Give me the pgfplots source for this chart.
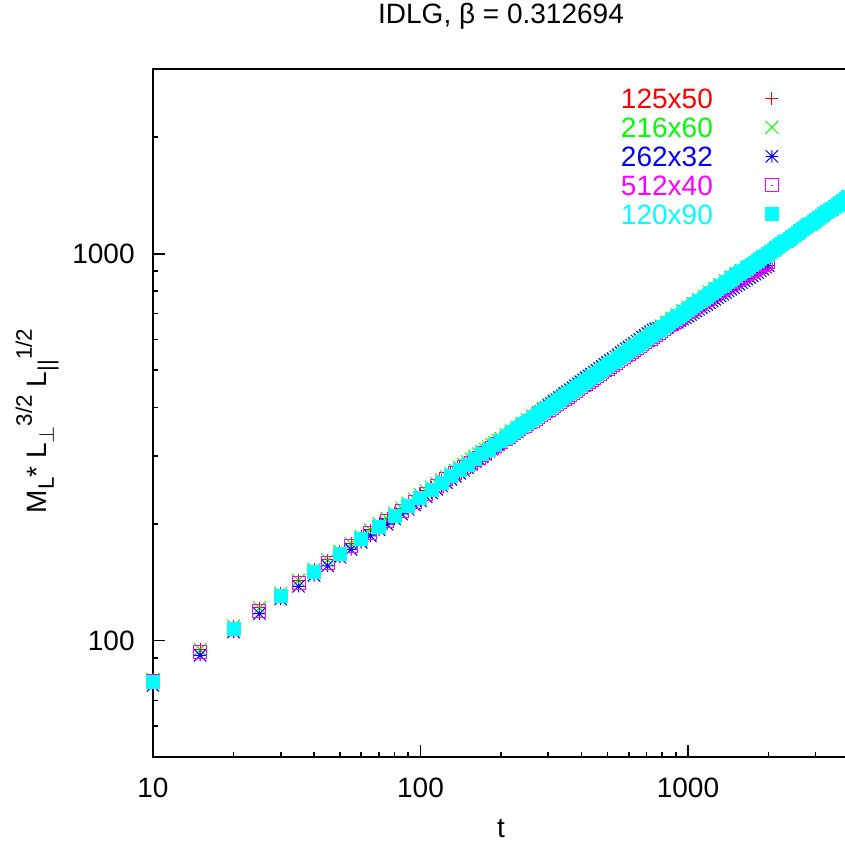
\documentclass[border=0pt]{standalone}
\usepackage{pgfplots}
\pgfplotsset{compat=1.18}
\usepackage{pgfplotstable}
\usepackage{fontspec}
\setmainfont{Liberation Sans}

\definecolor{gpred}{RGB}{255,0,0}
\definecolor{gpgreen}{RGB}{0,255,0}
\definecolor{gpblue}{RGB}{0,0,255}
\definecolor{gpmagenta}{RGB}{255,0,255}
\definecolor{gpcyan}{RGB}{0,255,255}

\pgfdeclareplotmark{gpstar}{%
  \pgfpathmoveto{\pgfqpoint{-\pgfplotmarksize}{0pt}}\pgfpathlineto{\pgfqpoint{\pgfplotmarksize}{0pt}}%
  \pgfpathmoveto{\pgfqpoint{0pt}{-\pgfplotmarksize}}\pgfpathlineto{\pgfqpoint{0pt}{\pgfplotmarksize}}%
  \pgfpathmoveto{\pgfqpoint{-\pgfplotmarksize}{-\pgfplotmarksize}}\pgfpathlineto{\pgfqpoint{\pgfplotmarksize}{\pgfplotmarksize}}%
  \pgfpathmoveto{\pgfqpoint{-\pgfplotmarksize}{\pgfplotmarksize}}\pgfpathlineto{\pgfqpoint{\pgfplotmarksize}{-\pgfplotmarksize}}%
  \pgfusepathqstroke}
\pgfdeclareplotmark{gpbox}{%
  \pgfpathrectangle{\pgfqpoint{-\pgfplotmarksize}{-\pgfplotmarksize}}{\pgfqpoint{2\pgfplotmarksize}{2\pgfplotmarksize}}%
  \pgfusepathqstroke
  \pgfpathrectangle{\pgfqpoint{-0.35pt}{-0.35pt}}{\pgfqpoint{0.7pt}{0.7pt}}%
  \pgfusepathqfill}

\newcommand{\lsub}[1]{\raisebox{-3.5pt}{\fontsize{11.2}{13}\selectfont #1}}
\newcommand{\lsup}[1]{\raisebox{7.5pt}{\fontsize{11.2}{13}\selectfont #1}}

\pgfplotstableread{
t y
10 79.3
15 94.8
20 109.0
25 121.4
30 132.6
35 143.0
40 152.5
45 161.5
50 170.0
55 178.0
60 185.7
65 193.1
70 200.2
75 206.9
80 213.5
85 219.9
90 226.1
95 232.1
100 237.9
105 243.6
110 249.2
115 254.6
120 259.9
125 265.1
130 270.2
135 275.2
140 280.1
145 284.9
150 289.6
155 294.2
160 298.8
165 303.4
170 307.7
175 312.1
180 316.4
185 320.6
190 324.8
195 329.0
200 333.0
208.9 340.1
218.8 347.8
229.1 355.7
239.9 363.7
251.2 371.8
263.0 380.3
275.4 388.9
288.4 397.7
302.0 406.6
316.2 415.9
331.1 425.2
346.7 434.9
363.1 444.6
380.2 454.7
398.1 464.9
416.9 475.5
436.5 486.2
457.1 497.2
478.6 508.4
501.2 519.9
524.8 531.6
549.5 543.7
575.4 555.9
602.6 568.5
631.0 581.3
660.7 594.4
691.8 607.9
724.4 621.6
758.6 635.7
794.3 650.0
831.8 664.6
871.0 679.7
912.0 695.0
955.0 710.8
1000 726.8
1047.1 743.2
1096.5 760.0
1148.2 777.1
1202.3 794.7
1258.9 812.7
1318.3 831.0
1380.4 849.8
1445.4 869.0
1513.6 888.6
1584.9 908.7
1659.6 929.2
1737.8 950.2
1819.7 971.6
1905.5 993.6
1995.3 1016.1
}\tabred

\pgfplotstableread{
t y
10 79.3
15 94.8
20 109.0
25 121.4
30 132.6
35 143.0
40 152.5
45 161.5
50 170.0
55 178.0
60 185.7
65 193.1
70 200.2
75 206.9
80 213.5
85 219.9
90 226.1
95 232.1
100 237.9
105 243.6
110 249.2
115 254.6
120 259.9
125 265.1
130 270.2
135 275.2
140 280.1
145 284.9
150 289.6
155 294.2
160 298.8
165 303.4
170 307.7
175 312.1
180 316.4
185 320.6
190 324.8
195 329.0
200 333.0
208.9 340.1
218.8 347.8
229.1 355.7
239.9 363.7
251.2 371.8
263.0 380.3
275.4 388.9
288.4 397.7
302.0 406.6
316.2 415.9
331.1 425.2
346.7 434.9
363.1 444.6
380.2 454.7
398.1 464.9
416.9 475.5
436.5 486.2
457.1 497.2
478.6 508.4
501.2 519.9
524.8 531.6
549.5 543.7
575.4 555.9
602.6 568.5
631.0 581.3
660.7 594.4
691.8 607.9
724.4 621.6
758.6 635.7
794.3 650.0
831.8 664.6
871.0 679.7
912.0 695.0
955.0 710.8
1000 726.8
1047.1 743.2
1096.5 760.0
1148.2 777.1
1202.3 794.7
1258.9 812.7
1318.3 831.0
1380.4 849.8
1445.4 869.0
1513.6 888.6
1584.9 904.6
1659.6 920.6
1737.8 935.0
1819.7 956.1
1905.5 977.7
1995.3 999.8
}\tabgreen

\pgfplotstableread{
t y
10 76.6
15 91.6
20 105.3
25 117.3
30 128.1
35 138.1
40 147.4
45 156.0
50 164.2
55 172.0
60 179.4
65 186.5
70 193.4
75 199.9
80 206.3
85 212.4
90 218.4
95 224.2
100 229.8
105 235.3
110 240.7
115 245.9
120 251.0
125 256.1
130 261.0
135 265.9
140 270.6
145 275.2
150 279.8
155 285.5
160 290.0
165 294.4
170 298.6
175 302.9
180 308.4
185 312.6
190 316.7
195 320.7
200 324.7
208.9 332.4
218.8 340.6
229.1 349.2
239.9 357.9
251.2 366.7
263.0 375.9
275.4 385.4
288.4 394.9
302.0 404.7
316.2 414.4
331.1 424.2
346.7 434.4
363.1 444.6
380.2 455.2
398.1 466.0
416.9 477.7
436.5 488.4
457.1 499.4
478.6 510.8
501.2 523.5
524.8 535.3
549.5 547.5
575.4 561.0
602.6 573.7
631.0 586.7
660.7 601.3
691.8 615.0
724.4 628.8
758.6 640.1
794.3 642.6
831.8 648.0
871.0 656.6
912.0 665.3
955.0 677.2
1000 689.3
1047.1 703.2
1096.5 717.4
1148.2 732.0
1202.3 746.8
1258.9 761.9
1318.3 777.3
1380.4 793.1
1445.4 809.1
1513.6 825.5
1584.9 842.2
1659.6 859.2
1737.8 876.6
1819.7 894.3
1905.5 912.4
1995.3 930.9
213.8 336.5
223.9 344.9
234.4 353.6
245.5 362.3
257.0 371.3
269.2 380.7
281.8 390.2
295.1 399.8
309.0 409.6
323.6 419.3
338.8 429.3
354.8 439.5
371.5 449.9
389.0 460.6
407.4 471.9
426.6 483.1
446.7 493.9
467.7 505.1
489.8 517.2
512.9 529.4
537.0 541.4
562.3 554.3
588.8 567.4
616.6 580.2
645.7 594.0
676.1 608.2
707.9 621.9
741.3 634.5
776.2 641.4
812.8 645.3
851.1 652.3
891.3 661.0
933.3 671.3
977.2 683.3
1023.3 696.3
1071.5 710.3
1122.0 724.7
1174.9 739.4
1230.3 754.4
1288.2 769.6
1349.0 785.2
1412.5 801.1
1479.1 817.3
1548.8 833.9
1621.8 850.7
1698.2 867.9
1778.3 885.5
1862.1 903.4
1949.8 921.7
}\tabblue

\pgfplotstableread{
t y
10 78.7
15 93.3
20 107.3
25 119.5
30 130.5
35 140.7
40 150.1
45 158.9
50 167.3
55 175.2
60 182.7
65 190.0
70 197.0
75 203.6
80 210.1
85 216.4
90 222.5
95 228.4
100 234.1
105 239.7
110 245.2
115 250.5
120 255.7
125 260.9
130 265.9
135 270.8
140 275.6
145 280.3
150 285.0
155 288.2
160 292.6
165 297.1
170 301.4
175 305.7
180 309.9
185 314.0
190 318.1
195 322.2
200 326.2
208.9 332.4
218.8 339.8
229.1 347.6
239.9 355.4
251.2 363.4
263.0 369.9
275.4 378.3
288.4 386.8
302.0 395.5
316.2 404.5
331.1 412.7
346.7 422.0
363.1 431.5
380.2 441.3
398.1 451.2
416.9 461.5
436.5 471.8
457.1 482.5
478.6 493.4
501.2 504.6
524.8 515.9
549.5 527.7
575.4 539.5
602.6 551.7
631.0 564.2
660.7 576.9
691.8 590.0
724.4 603.3
758.6 616.9
794.3 630.8
831.8 645.0
871.0 659.6
912.0 674.5
955.0 689.8
1000 705.4
1047.1 719.6
1096.5 735.8
1148.2 752.5
1202.3 767.7
1258.9 785.1
1318.3 802.8
1380.4 817.2
1445.4 835.6
1513.6 850.6
1584.9 869.8
1659.6 885.3
1737.8 901.2
1819.7 917.3
1905.5 933.7
1995.3 950.4
213.8 336.1
223.9 343.7
234.4 351.5
245.5 359.4
257.0 366.7
269.2 374.1
281.8 382.6
295.1 391.2
309.0 400.0
323.6 408.6
338.8 417.4
354.8 426.8
371.5 436.4
389.0 446.3
407.4 456.4
426.6 466.7
446.7 477.2
467.7 488.0
489.8 499.0
512.9 510.3
537.0 521.8
562.3 533.6
588.8 545.6
616.6 558.0
645.7 570.6
676.1 583.5
707.9 596.7
741.3 610.1
776.2 623.9
812.8 637.9
851.1 652.3
891.3 667.1
933.3 682.2
977.2 697.6
1023.3 712.5
1071.5 727.7
1122.0 744.2
1174.9 760.1
1230.3 776.4
1288.2 794.0
1349.0 810.0
1412.5 826.4
1479.1 843.1
1548.8 860.2
1621.8 877.6
1698.2 893.3
1778.3 909.3
1862.1 925.5
1949.8 942.1
}\tabmagenta

\pgfplotstableread{
t y
10 78.0
20 107.3
30 130.5
40 150.1
50 167.3
60 182.7
70 197.0
80 210.1
90 222.5
100 234.1
110 245.2
120 255.7
130 265.9
140 275.6
150 285.0
160 294.0
170 302.8
180 311.3
190 319.6
200 327.7
208.9 334.7
218.8 342.2
229.1 350.0
239.9 357.9
251.2 365.9
263.0 374.2
275.4 382.7
288.4 391.3
302.0 400.1
316.2 409.2
331.1 418.4
346.7 427.9
363.1 437.5
380.2 447.4
398.1 457.5
416.9 467.9
436.5 478.4
457.1 489.2
478.6 500.3
501.2 511.6
524.8 523.1
549.5 535.0
575.4 547.0
602.6 559.4
631.0 572.0
660.7 584.9
691.8 598.2
724.4 611.7
758.6 625.5
794.3 639.6
831.8 654.0
871.0 668.8
912.0 683.9
955.0 699.4
1000 715.2
1047.1 731.3
1096.5 747.8
1148.2 764.7
1202.3 782.0
1258.9 799.7
1318.3 817.7
1380.4 836.2
1445.4 855.1
1513.6 874.4
1584.9 894.2
1659.6 914.3
1737.8 935.0
1819.7 956.1
1905.5 977.7
1995.3 999.8
2089.3 1022.4
2187.8 1045.4
2290.9 1069.1
2398.8 1093.3
2511.9 1117.9
2630.3 1143.2
2754.2 1169.0
2884.0 1195.4
3020.0 1222.4
3162.3 1250.0
3311.3 1278.2
3467.4 1307.2
3630.8 1336.7
3801.9 1366.8
3981.1 1397.7
213.8 338.5
223.9 346.0
234.4 353.9
245.5 361.9
257.0 370.0
269.2 378.4
281.8 387.0
295.1 395.7
309.0 404.6
323.6 413.8
338.8 423.1
354.8 432.7
371.5 442.4
389.0 452.4
407.4 462.6
426.6 473.2
446.7 483.8
467.7 494.7
489.8 505.9
512.9 517.4
537.0 529.0
562.3 541.0
588.8 553.1
616.6 565.7
645.7 578.4
676.1 591.5
707.9 604.9
741.3 618.6
776.2 632.5
812.8 646.8
851.1 661.4
891.3 676.3
933.3 691.6
977.2 707.3
1023.3 723.2
1071.5 739.5
1122.0 756.2
1174.9 773.3
1230.3 790.8
1288.2 808.7
1349.0 826.9
1412.5 845.6
1479.1 864.7
1548.8 884.2
1621.8 904.2
1698.2 924.6
1778.3 945.5
1862.1 966.8
1949.8 988.7
2041.7 1011.0
2138.0 1033.9
2238.7 1057.1
2344.2 1081.1
2454.7 1105.6
2570.4 1130.5
2691.5 1156.0
2818.4 1182.1
2951.2 1208.8
3090.3 1236.1
3235.9 1264.0
3388.4 1292.6
3548.1 1321.9
3715.4 1351.7
3890.5 1382.2
}\tabcyan

\begin{document}
\fontsize{14}{17}\selectfont
\begin{tikzpicture}[font=\fontsize{14}{17}\selectfont]
\begin{axis}[
  at={(0,0)}, anchor=south west,
  scale only axis, width=348pt, height=344pt,
  xmode=log, ymode=log,
  xmin=10, xmax=4000, ymin=50, ymax=3000,
  font=\fontsize{14}{17}\selectfont,
  /pgf/number format/assume math mode=true,
  xtick={10,100,1000}, xticklabels={10,100,1000},
  minor xtick={20,30,40,50,60,70,80,90,200,300,400,500,600,700,800,900,2000,3000},
  ytick={100,1000}, yticklabels={100,1000},
  minor ytick={60,70,80,90,200,300,400,500,600,700,800,900,2000},
  tick pos=left, tick align=inside,
  major tick length=6pt, minor tick length=2.75pt,
  every tick/.style={black, line width=0.9pt},
  axis line style={black, line width=1pt},
  xticklabel style={inner sep=0pt, anchor=base, yshift=-20pt},
  yticklabel style={inner sep=0pt, anchor=east, xshift=-9pt},
  title={IDLG, β = 0.312694},
  title style={at={(axis description cs:0.5,1.0494)}, anchor=base, inner sep=0pt},
  xlabel={t},
  xlabel style={at={(axis description cs:0.5,-0.1163)}, anchor=base, inner sep=0pt},
  ylabel={M\lsub{L}* L\lsub{$\perp$}\lsup{3/2} L\lsub{||}\lsup{1/2}},
  ylabel style={at={(axis description cs:-0.1523,0.4884)}, anchor=base, rotate=0, inner sep=0pt},
  legend plot pos=right,
  legend cell align=right,
  legend image code/.code={\draw[#1] plot coordinates {(0pt,0pt)};},
  legend style={draw=none, fill=none, inner sep=0pt, outer sep=0pt,
    at={(axis description cs:0.6724,0.9719)}, anchor=north west,
    row sep=4.5pt, column sep=26.25pt,
    font=\fontsize{14}{17}\selectfont,
    nodes={inner sep=0pt, outer sep=0pt, text height=10pt, text depth=0pt}},
]
\addplot[only marks, mark=+, mark size=3.2pt, color=gpred, line width=0.5pt] table[x=t,y=y] {\tabred};
\addlegendentry{\textcolor{gpred}{125x50}}
\addplot[only marks, mark=x, mark size=4.6pt, color=gpgreen, line width=0.5pt] table[x=t,y=y] {\tabgreen};
\addlegendentry{\textcolor{gpgreen}{216x60}}
\addplot[only marks, mark=gpstar, mark size=3.1pt, color=gpblue, line width=0.5pt] table[x=t,y=y] {\tabblue};
\addlegendentry{\textcolor{gpblue}{262x32}}
\addplot[only marks, mark=gpbox, mark size=3.25pt, color=gpmagenta, line width=0.5pt] table[x=t,y=y] {\tabmagenta};
\addlegendentry{\textcolor{gpmagenta}{512x40}}
\addplot[only marks, mark=square*, mark size=3.25pt, color=gpcyan, mark options={draw=gpcyan, fill=gpcyan}, line width=0.5pt] table[x=t,y=y] {\tabcyan};
\addlegendentry{\textcolor{gpcyan}{120x90}}
\end{axis}
\pgfresetboundingbox
\path[use as bounding box] (-76.5pt,-43pt) rectangle (346pt,378.5pt);
\end{tikzpicture}
\end{document}
